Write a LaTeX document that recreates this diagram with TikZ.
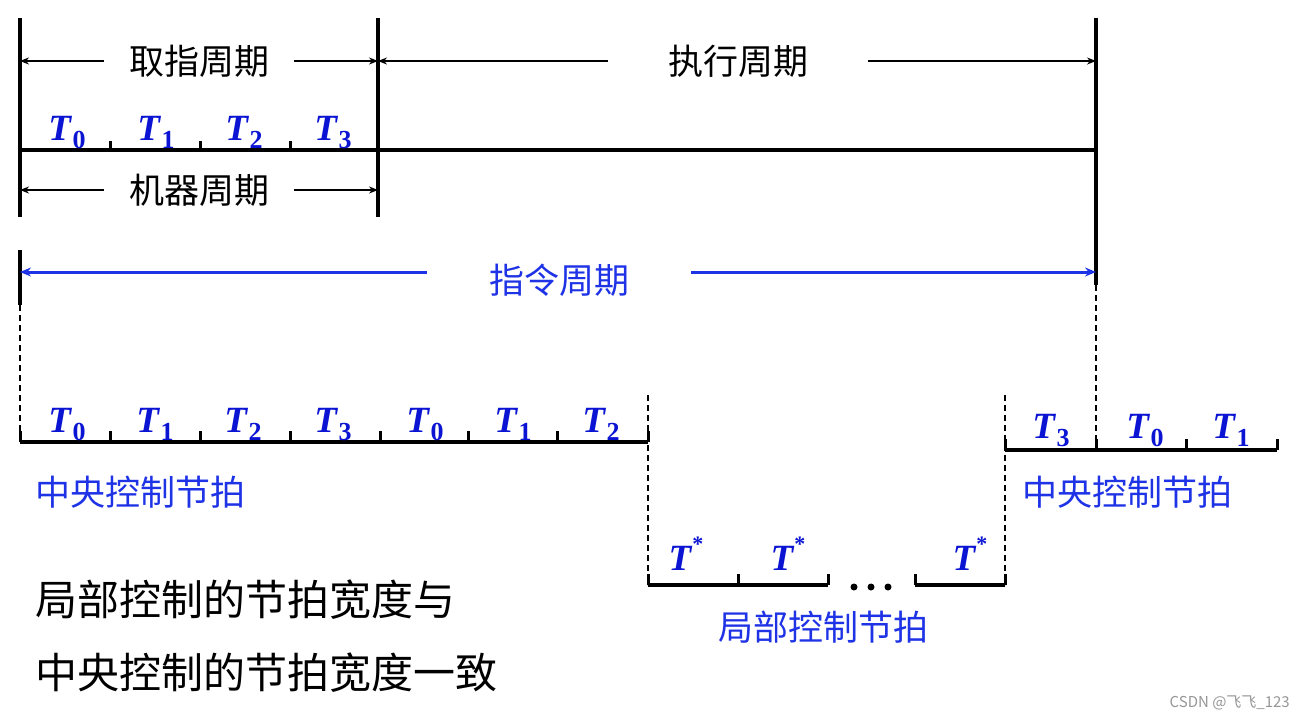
\documentclass[tikz,border=0pt]{standalone}
\usepackage{fontspec}
\setmainfont{Liberation Serif}
\newfontfamily\cjk{Noto Sans CJK SC}
\usetikzlibrary{arrows.meta}
\definecolor{tblue}{RGB}{10,20,210}
\definecolor{lblue}{RGB}{30,50,230}
\definecolor{wmgray}{RGB}{150,150,150}
\newcommand\tlab[1]{\textbf{\textit{T}}\kern0.5pt\raisebox{-0.22em}{\fontsize{26}{26}\selectfont\textbf{#1}}}
\newcommand\tstar{\textbf{\textit{T}}\raisebox{0.5em}{\fontsize{22}{22}\selectfont\textbf{*}}}
\begin{document}
\begin{tikzpicture}[x=1pt,y=-1pt,
  thickline/.style={line width=3.5pt},
  tickline/.style={line width=3pt},
  dim/.style={line width=1.6pt,-{Stealth[length=9pt,width=7pt]}},
  bluearr/.style={line width=3pt,lblue,-{Stealth[length=11pt,width=9pt]}},
  dashline/.style={line width=1.2pt,dash pattern=on 6pt off 4pt},
  cn/.style={font=\cjk\fontsize{35}{35}\selectfont,inner sep=0pt},
  cnb/.style={font=\cjk\fontsize{35}{35}\selectfont,text=lblue,inner sep=0pt},
  big/.style={font=\cjk\fontsize{42}{42}\selectfont,inner sep=0pt,anchor=west},
  tl/.style={font=\fontsize{37}{37}\selectfont,text=tblue,inner sep=0pt,anchor=base},
  dot/.style={circle,fill=black,inner sep=0pt,minimum size=7pt}
]
\useasboundingbox (0,0) rectangle (1304,720);

% ---------- top frame ----------
\coordinate (L0) at (20,18);   \coordinate (L1) at (20,217);
\coordinate (M0) at (378,18);  \coordinate (M1) at (378,217);
\coordinate (R0) at (1096,18); \coordinate (R1) at (1096,285);
\coordinate (R2) at (1096,450);
\coordinate (H0) at (20,150);  \coordinate (H1) at (1096,150);
\draw[thickline] (L0) -- (L1);
\draw[thickline] (M0) -- (M1);
\draw[thickline] (R0) -- (R1);
\draw[thickline] (H0) -- (H1);
\foreach \x/\n in {110/a,200/b,290/c}{
  \coordinate (tt\n0) at (\x,141); \coordinate (tt\n1) at (\x,150);
  \draw[tickline] (tt\n0) -- (tt\n1);
}

% dimension arrows
\node[cn,inner xsep=25pt] (qz) at (199,61) {取指周期};
\draw[dim] (qz.west) -- (qz.west -| L0);
\draw[dim] (qz.east) -- (qz.east -| M0);
\node[cn,inner xsep=60pt] (zx) at (738,61) {执行周期};
\draw[dim] (zx.west) -- (zx.west -| M0);
\draw[dim] (zx.east) -- (zx.east -| R0);
\node[cn,inner xsep=25pt] (jq) at (199,190) {机器周期};
\draw[dim] (jq.west) -- (jq.west -| L0);
\draw[dim] (jq.east) -- (jq.east -| M0);

% top T labels
\node[tl] (u0) at (67,140) {\tlab{0}};
\node[tl] (u1) at (156,140) {\tlab{1}};
\node[tl] (u2) at (244,140) {\tlab{2}};
\node[tl] (u3) at (333,140) {\tlab{3}};

% instruction cycle
\coordinate (L2) at (20,250); \coordinate (L3) at (20,305); \coordinate (L4) at (20,442);
\draw[thickline] (L2) -- (L3);
\draw[dashline] (L3) -- (L4);
\draw[dashline] (R1) -- (R2);
\node[cnb,inner xsep=62pt] (zl) at (559,280) {指令周期};
\draw[bluearr] (zl.west |- 0,272) coordinate (zlw) -- (zlw -| L2);
\draw[bluearr] (zl.east |- 0,272) coordinate (zle) -- (zle -| R1);

% ---------- central beats (left) ----------
\coordinate (B0) at (648,442);
\draw[thickline] (L4) -- (B0);
\foreach \x/\n in {20/a,110/b,200/c,290/d,380/e,468/f,557/g,648/h}{
  \coordinate (bt\n0) at (\x,431); \coordinate (bt\n1) at (\x,442);
  \draw[tickline] (bt\n0) -- (bt\n1);
}
\node[tl] (v0) at (67,432) {\tlab{0}};
\node[tl] (v1) at (155,432) {\tlab{1}};
\node[tl] (v2) at (243,432) {\tlab{2}};
\node[tl] (v3) at (333,432) {\tlab{3}};
\node[tl] (v4) at (425,432) {\tlab{0}};
\node[tl] (v5) at (513,432) {\tlab{1}};
\node[tl] (v6) at (601,432) {\tlab{2}};
\node[cnb,anchor=west] (zy1) at (35,492) {中央控制节拍};

% ---------- local beats ----------
\coordinate (D0) at (648,395); \coordinate (D1) at (648,585);
\coordinate (E0) at (1005,395); \coordinate (E1) at (1005,585);
\draw[dashline] (D0) -- (D1);
\draw[dashline] (E0) -- (E1);
\coordinate (K0) at (828,585); \coordinate (K1) at (915,585);
\draw[thickline] (D1) -- (K0);
\draw[thickline] (K1) -- (E1);
\foreach \x/\n in {648/a,738/b,828/c,915/d,1005/e}{
  \coordinate (lt\n0) at (\x,574); \coordinate (lt\n1) at (\x,585);
  \draw[tickline] (lt\n0) -- (lt\n1);
}
\node[dot] (d1) at (854,587) {};
\node[dot] (d2) at (871,587) {};
\node[dot] (d3) at (888,587) {};
\node[tl] (s1) at (686,570) {\tstar};
\node[tl] (s2) at (788,570) {\tstar};
\node[tl] (s3) at (970,570) {\tstar};
\node[cnb] (jb) at (823,627) {局部控制节拍};

% ---------- central beats (right) ----------
\coordinate (C0) at (1005,450); \coordinate (C1) at (1277,450);
\draw[thickline] (C0) -- (C1);
\foreach \x/\n in {1005/a,1096/b,1186/c,1277/d}{
  \coordinate (rt\n0) at (\x,439); \coordinate (rt\n1) at (\x,450);
  \draw[tickline] (rt\n0) -- (rt\n1);
}
\node[tl] (w0) at (1051,438) {\tlab{3}};
\node[tl] (w1) at (1145,438) {\tlab{0}};
\node[tl] (w2) at (1231,438) {\tlab{1}};
\node[cnb,anchor=west] (zy2) at (1022,492) {中央控制节拍};

% ---------- notes ----------
\node[big] (n1) at (35,600) {局部控制的节拍宽度与};
\node[big] (n2) at (35,673) {中央控制的节拍宽度一致};
\node[font=\cjk\fontsize{15}{15}\selectfont,text=wmgray,anchor=east,inner sep=0pt] (wm) at (1290,703) {CSDN @飞飞\_123};
\end{tikzpicture}
\end{document}
